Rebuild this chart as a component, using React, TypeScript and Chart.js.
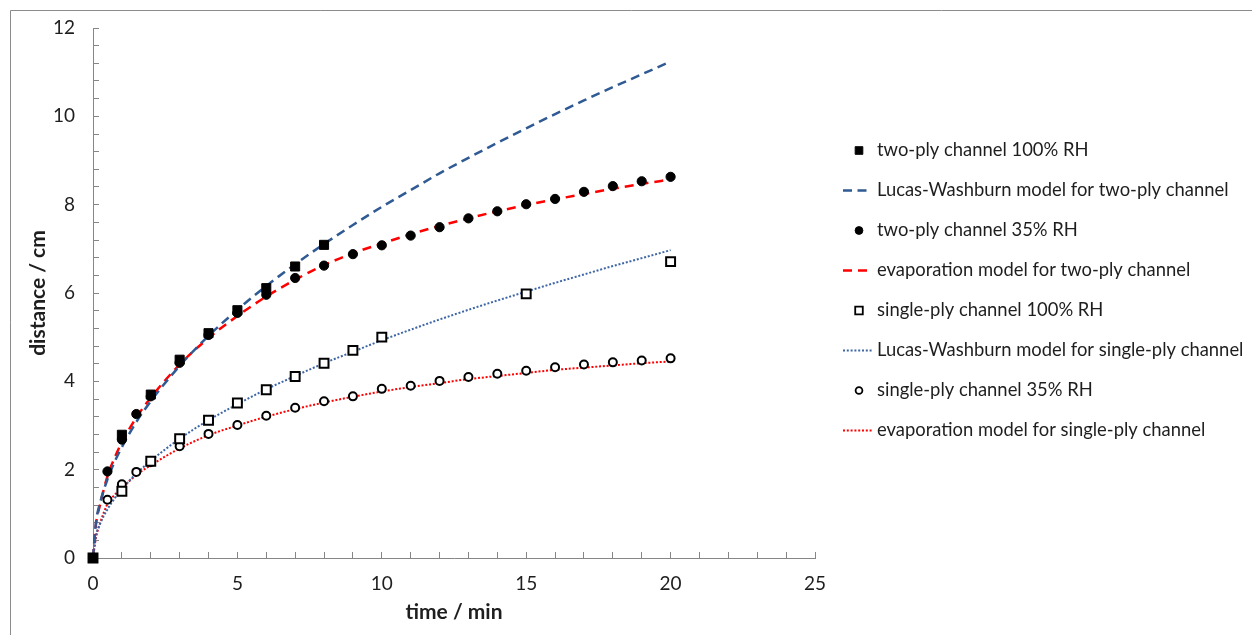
import React, { useEffect, useRef } from 'react';
import { Chart, registerables } from 'chart.js';

Chart.register(...registerables);

// ---------- data ----------
const twoPly100X = [0, 1, 2, 3, 4, 5, 6, 7, 8];
const twoPly100Y = [0, 2.79, 3.7, 4.49, 5.09, 5.61, 6.11, 6.6, 7.09];

const measX = [0, 0.5, 1, 1.5, 2, 3, 4, 5, 6, 7, 8, 9, 10, 11, 12, 13, 14, 15, 16, 17, 18, 19, 20];
const twoPly35Y = [0, 1.96, 2.68, 3.26, 3.66, 4.42, 5.05, 5.55, 5.96, 6.34, 6.62, 6.88, 7.08, 7.3, 7.49, 7.69, 7.85, 8.01, 8.13, 8.29, 8.42, 8.53, 8.63];
const singlePly35Y = [0, 1.32, 1.67, 1.95, 2.17, 2.53, 2.81, 3.01, 3.22, 3.4, 3.55, 3.66, 3.83, 3.9, 4.01, 4.1, 4.17, 4.24, 4.32, 4.38, 4.43, 4.47, 4.52];

const singlePly100X = [0, 1, 2, 3, 4, 5, 6, 7, 8, 9, 10, 15, 20];
const singlePly100Y = [0, 1.51, 2.19, 2.7, 3.12, 3.51, 3.81, 4.11, 4.41, 4.7, 5.0, 5.98, 6.71];

const modelX = [0, 0.1, 0.25, 0.5, 0.75, 1, 1.5, 2, 3, 4, 5, 6, 7, 8, 9, 10, 11, 12, 13, 14, 15, 16, 17, 18, 19, 20];
const lwTwoPlyY = [0, 0.79, 1.26, 1.78, 2.18, 2.51, 3.08, 3.55, 4.35, 5.03, 5.62, 6.16, 6.65, 7.11, 7.54, 7.95, 8.33, 8.71, 9.06, 9.4, 9.73, 10.05, 10.36, 10.66, 10.95, 11.24];
const evapTwoPlyY = [0, 0.75, 1.22, 1.85, 2.27, 2.62, 3.18, 3.63, 4.38, 4.98, 5.48, 5.92, 6.3, 6.63, 6.9, 7.12, 7.33, 7.52, 7.69, 7.85, 7.99, 8.12, 8.24, 8.36, 8.47, 8.57];
const lwSinglePlyY = [0, 0.49, 0.78, 1.1, 1.35, 1.56, 1.91, 2.2, 2.7, 3.12, 3.48, 3.82, 4.12, 4.41, 4.67, 4.93, 5.17, 5.4, 5.62, 5.83, 6.03, 6.23, 6.42, 6.61, 6.79, 6.97];
const evapSinglePlyY = [0, 0.45, 0.8, 1.22, 1.43, 1.58, 1.88, 2.1, 2.48, 2.78, 3.0, 3.2, 3.37, 3.52, 3.65, 3.77, 3.87, 3.96, 4.05, 4.12, 4.19, 4.26, 4.31, 4.36, 4.41, 4.45];

const seriesLabels = [
  'two-ply channel 100% RH',
  'Lucas-Washburn model for two-ply channel',
  'two-ply channel 35% RH',
  'evaporation model for two-ply channel',
  'single-ply channel 100% RH',
  'Lucas-Washburn model for single-ply channel',
  'single-ply channel 35% RH',
  'evaporation model for single-ply channel',
];

const xTitle = 'time / min';
const yTitle = 'distance / cm';

// ---------- helpers ----------
const pts = (xs: number[], ys: number[]) => xs.map((x, i) => ({ x, y: ys[i] }));

const FONT = 'Lato, "Open Sans", sans-serif';
const TEXT = '#1e1e1e';
const AXIS = '#868686';
const BLUE_DASH = '#2F5A94';
const BLUE_DOT = '#3E66A6';
const RED = '#FF0000';

const markerDs = (label: string, data: any[], style: string, radius: number, bg: string, bw: number) => ({
  label,
  data,
  showLine: false,
  pointStyle: style,
  pointRadius: radius,
  pointHoverRadius: radius,
  pointBackgroundColor: bg,
  pointBorderColor: '#000',
  pointBorderWidth: bw,
  backgroundColor: bg,
  borderColor: '#000',
  clip: false,
  order: 0,
});

const lineDs = (label: string, data: any[], color: string, width: number, dash: number[]) => ({
  label,
  data,
  showLine: true,
  pointRadius: 0,
  pointHoverRadius: 0,
  pointStyle: 'line',
  borderColor: color,
  backgroundColor: color,
  borderWidth: width,
  borderDash: dash,
  cubicInterpolationMode: 'monotone',
  fill: false,
  clip: false,
  order: 1,
});

const frameSketch = {
  id: 'frameSketch',
  beforeDraw(chart: any) {
    const { ctx, width, height } = chart;
    ctx.save();
    ctx.fillStyle = '#fff';
    ctx.fillRect(0, 0, width, height);
    ctx.strokeStyle = '#8c8c8c';
    ctx.lineWidth = 1;
    ctx.beginPath();
    ctx.moveTo(width, 10.5);
    ctx.lineTo(10.5, 10.5);
    ctx.lineTo(10.5, height);
    ctx.stroke();
    ctx.restore();
  },
};

const sideLegend = {
  id: 'sideLegend',
  afterDraw(chart: any) {
    const { ctx } = chart;
    const x0 = 843;
    const textX = 877;
    chart.data.datasets.forEach((ds: any, i: number) => {
      const cy = 150.5 + i * 40;
      ctx.save();
      if (ds.showLine) {
        ctx.strokeStyle = ds.borderColor;
        ctx.lineWidth = ds.borderWidth;
        ctx.setLineDash(ds.borderDash || []);
        ctx.beginPath();
        ctx.moveTo(x0, cy);
        ctx.lineTo(ds.borderDash[0] > 4 ? x0 + 24 : x0 + 29, cy);
        ctx.stroke();
      } else {
        const cx = 859;
        const r = ds.pointRadius * 0.85;
        ctx.fillStyle = ds.pointBackgroundColor;
        ctx.strokeStyle = ds.pointBorderColor;
        ctx.lineWidth = ds.pointBorderWidth * 0.9;
        ctx.beginPath();
        if (ds.pointStyle === 'rect') {
          const s = r * Math.SQRT1_2;
          ctx.rect(cx - s, cy - s, 2 * s, 2 * s);
        } else {
          ctx.arc(cx, cy, r, 0, Math.PI * 2);
        }
        ctx.fill();
        ctx.stroke();
      }
      ctx.setLineDash([]);
      ctx.fillStyle = TEXT;
      ctx.font = `18.4px ${FONT}`;
      ctx.textBaseline = 'middle';
      ctx.textAlign = 'left';
      ctx.fillText(ds.label, textX, cy);
      ctx.restore();
    });
  },
};

export default function App() {
  const ref = useRef<HTMLCanvasElement>(null);

  useEffect(() => {
    if (!ref.current) return;
    const datasets: any[] = [
      markerDs(seriesLabels[0], pts(twoPly100X, twoPly100Y), 'rect', 6.4, '#000', 1),
      lineDs(seriesLabels[1], pts(modelX, lwTwoPlyY), BLUE_DASH, 2.5, [9, 5.5]),
      markerDs(seriesLabels[2], pts(measX, twoPly35Y), 'circle', 4.6, '#000', 1),
      lineDs(seriesLabels[3], pts(modelX, evapTwoPlyY), RED, 2.5, [9, 6]),
      markerDs(seriesLabels[4], pts(singlePly100X, singlePly100Y), 'rect', 6.3, '#fff', 2),
      lineDs(seriesLabels[5], pts(modelX, lwSinglePlyY), BLUE_DOT, 2, [2, 1.8]),
      markerDs(seriesLabels[6], pts(measX, singlePly35Y), 'circle', 4, '#fff', 2),
      lineDs(seriesLabels[7], pts(modelX, evapSinglePlyY), RED, 2, [2, 1.8]),
    ];

    const chart = new Chart(ref.current, {
      type: 'scatter',
      data: { datasets },
      plugins: [frameSketch, sideLegend],
      options: {
        responsive: false,
        animation: false,
        devicePixelRatio: 1,
        layout: { padding: { left: 10, top: 28, right: 437, bottom: 0 } },
        plugins: {
          legend: { display: false },
          tooltip: { enabled: false },
        },
        scales: {
          x: {
            type: 'linear',
            position: 'bottom',
            min: 0,
            max: 25,
            afterFit: (s: any) => { s.height = 77; },
            ticks: {
              stepSize: 1,
              autoSkip: false,
              maxRotation: 0,
              padding: 20,
              color: TEXT,
              font: { family: FONT, size: 19 },
              callback: (v: any) => (Math.abs(v % 5) < 1e-6 ? String(v) : ''),
            },
            grid: { drawOnChartArea: false, drawTicks: true, tickLength: -6, color: AXIS, tickColor: AXIS },
            border: { display: true, color: AXIS, width: 1 },
            title: {
              display: true,
              text: xTitle,
              color: TEXT,
              font: { family: FONT, size: 21, weight: 'bold' },
              padding: { top: 0, bottom: 10 },
            },
          },
          y: {
            type: 'linear',
            position: 'left',
            min: 0,
            max: 12,
            afterFit: (s: any) => {
              s.width = 83;
              s.paddingTop = 0;
              s.paddingBottom = 0;
            },
            ticks: {
              stepSize: 0.4,
              autoSkip: false,
              padding: 24,
              color: TEXT,
              font: { family: FONT, size: 19 },
              callback: (v: any) => {
                const n = Number(v);
                return Math.abs(n / 2 - Math.round(n / 2)) < 1e-6 ? String(Math.round(n)) : '';
              },
            },
            grid: { drawOnChartArea: false, drawTicks: true, tickLength: -6, color: AXIS, tickColor: AXIS },
            border: { display: true, color: AXIS, width: 1 },
            title: {
              display: true,
              text: yTitle,
              color: TEXT,
              font: { family: FONT, size: 21, weight: 'bold' },
              padding: { top: 16, bottom: 0 },
            },
          },
        },
      } as any,
    });
    return () => chart.destroy();
  }, []);

  return (
    <div style={{ position: 'fixed', left: 0, top: 0, width: 1252, height: 635, background: '#fff', overflow: 'hidden' }}>
      <canvas ref={ref} width={1252} height={635} style={{ display: 'block', width: 1252, height: 635 }} />
    </div>
  );
}
